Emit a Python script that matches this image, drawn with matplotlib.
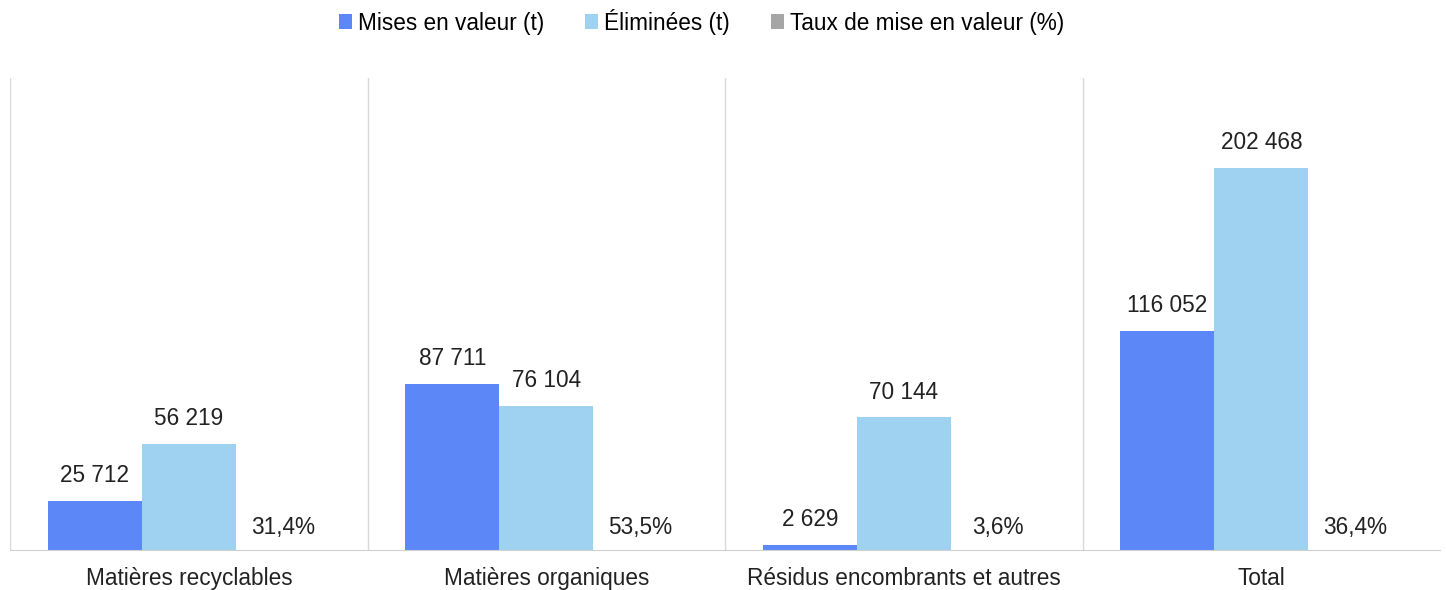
import matplotlib.pyplot as plt
import numpy as np

plt.rcParams["font.family"] = ["Liberation Sans", "DejaVu Sans"]

categories = ["Matières recyclables", "Matières organiques",
              "Résidus encombrants et autres", "Total"]
mises = [25712, 87711, 2629, 116052]
eliminees = [56219, 76104, 70144, 202468]
taux = [31.4, 53.5, 3.6, 36.4]

C_MISES = "#5b87f7"
C_ELIM = "#9fd2f1"
C_TAUX = "#a6a6a6"
FS = 16.3


def fr(n):
    return f"{n:,}".replace(",", " ")


fig = plt.figure(figsize=(14.46, 5.9), dpi=100)
ax = fig.add_axes([0.007, 0.068, 0.989, 0.8])

x = np.arange(len(categories))
w = 0.263
b1 = ax.bar(x - w, mises, w, color=C_MISES, label="Mises en valeur (t)")
b2 = ax.bar(x, eliminees, w, color=C_ELIM, label="Éliminées (t)")
b3 = ax.bar(x + w, [t / 100 for t in taux], w, color=C_TAUX,
            label="Taux de mise en valeur (%)")

for bars, vals in ((b1, mises), (b2, eliminees)):
    for bar, v in zip(bars, vals):
        ax.annotate(fr(v), (bar.get_x() + bar.get_width() / 2, v),
                    xytext=(0, 10), textcoords="offset points",
                    ha="center", va="bottom", fontsize=FS, color="#222222")
for bar, t in zip(b3, taux):
    ax.annotate(f"{t:.1f}%".replace(".", ","),
                (bar.get_x() + bar.get_width() / 2, 0),
                xytext=(0, 16), textcoords="offset points",
                ha="center", va="center", fontsize=FS, color="#222222")

ax.set_xlim(-0.5, len(categories) - 0.5)
ax.set_ylim(0, 250000)
for xv in np.arange(-0.5, len(categories) - 0.5, 1):
    ax.axvline(xv, color="#d9d9d9", lw=1)
for s in ("top", "right", "left"):
    ax.spines[s].set_visible(False)
ax.spines["bottom"].set_color("#d0d0d0")
ax.set_yticks([])
ax.set_xticks(x)
ax.set_xticklabels(categories, fontsize=FS, color="#222222")
ax.tick_params(axis="x", length=0, pad=12)

fig.legend(loc="upper center", bbox_to_anchor=(0.485, 1.02), ncol=3,
           frameon=False, fontsize=FS, handlelength=0.6, handleheight=0.6,
           handletextpad=0.25, columnspacing=1.8)

fig.savefig("out.png", dpi=100)
